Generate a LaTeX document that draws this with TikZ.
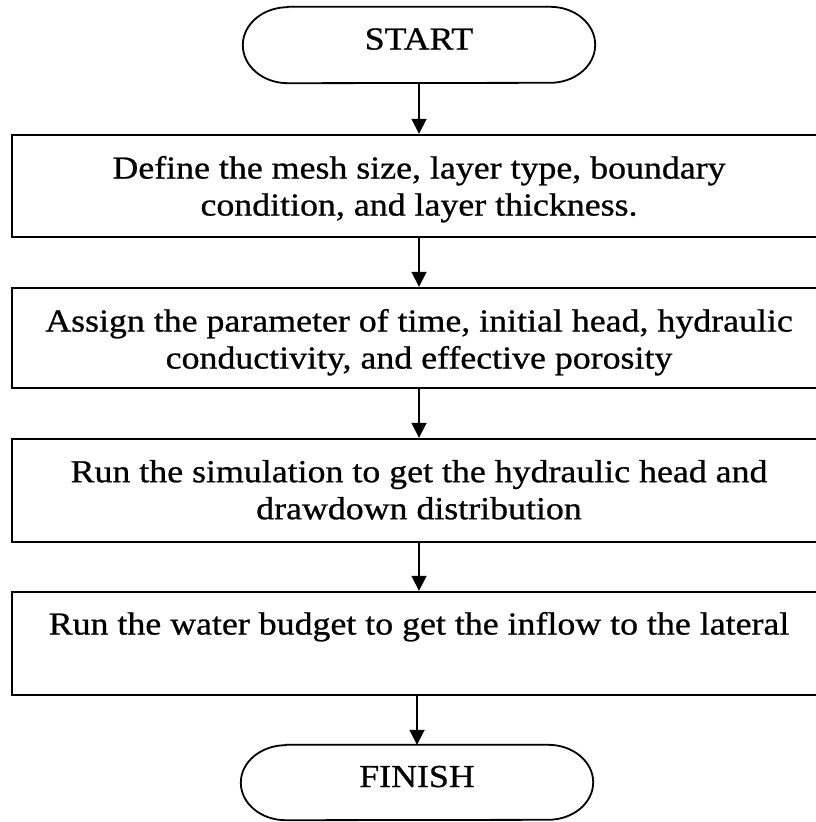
\documentclass[tikz,border=0pt]{standalone}
\usepackage{fontspec}
\setmainfont{Liberation Serif}[FakeStretch=1.12,FakeBold=0.8]
\usetikzlibrary{arrows.meta}
\begin{document}
\begin{tikzpicture}[x=1pt,y=1pt,
  box/.style={draw, line width=2.4pt, minimum width=814pt, inner sep=0pt},
  txt/.style={font=\fontsize{32}{37}\selectfont, align=center, inner sep=0pt, anchor=north},
  term/.style={minimum width=352pt, inner sep=0pt, text height=21pt, text depth=12pt,
               font=\fontsize{32}{37}\selectfont},
  outline/.style={line width=1.8pt},
  arr/.style={line width=1.8pt, -{Triangle[length=15pt,width=15pt]}}]
\path[use as bounding box] (0,0) rectangle (816,-822);
\clip (0,0) rectangle (816,-822);

% START terminal
\node[term, minimum height=76pt] (s) at (419,-45) {START};
\draw[outline] ([xshift=45pt]s.north west) -- ([xshift=-45pt]s.north east)
  arc[start angle=90,end angle=-90,x radius=45pt,y radius=38pt]
  -- ([xshift=45pt]s.south west)
  arc[start angle=-90,end angle=-270,x radius=45pt,y radius=38pt] -- cycle;

% process boxes
\node[box, minimum height=102pt] (b1) at (419,-186) {};
\node[txt] (t1) at ([yshift=-22pt]b1.north) {Define the mesh size, layer type, boundary\\condition, and layer thickness.};

\node[box, minimum height=100pt] (b2) at (419,-338) {};
\node[txt] (t2) at ([yshift=-22pt]b2.north) {Assign the parameter of time, initial head, hydraulic\\conductivity, and effective porosity};

\node[box, minimum height=103pt] (b3) at (419,-490.5) {};
\node[txt] (t3) at ([yshift=-22pt]b3.north) {Run the simulation to get the hydraulic head and\\drawdown distribution};

\node[box, minimum height=103pt] (b4) at (419,-643.5) {};
\node[txt] (t4) at ([yshift=-21pt]b4.north) {Run the water budget to get the inflow to the lateral};

% FINISH terminal
\node[term, minimum height=75pt] (f) at (417,-782.5) {FINISH};
\draw[outline] ([xshift=45pt]f.north west) -- ([xshift=-45pt]f.north east)
  arc[start angle=90,end angle=-90,x radius=45pt,y radius=37.5pt]
  -- ([xshift=45pt]f.south west)
  arc[start angle=-90,end angle=-270,x radius=45pt,y radius=37.5pt] -- cycle;

% connectors
\draw[arr] (s.south) -- (b1.north);
\draw[arr] (b1.south) -- (b2.north);
\draw[arr] (b2.south) -- (b3.north);
\draw[arr] (b3.south) -- (b4.north);
\draw[arr] (b4.south -| f.north) -- (f.north);
\end{tikzpicture}
\end{document}
